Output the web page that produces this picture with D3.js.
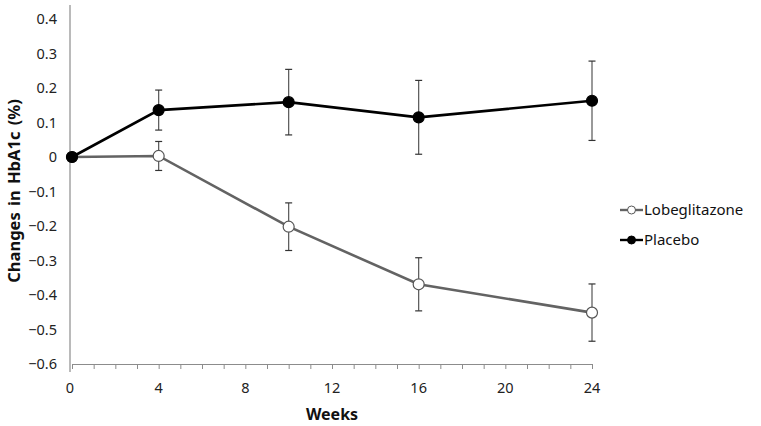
<!DOCTYPE html>
<html><head><meta charset="utf-8">
<script src="https://cdn.jsdelivr.net/npm/d3@7"></script>
<style>body{margin:0;background:#fff}svg{display:block}</style>
</head><body>
<svg id="c" width="761" height="426"></svg>
<script>
const weeks = [0, 4, 10, 16, 24];
const lobeMean = [0, 0.003, -0.202, -0.369, -0.451];
const lobeErr = [0, 0.042, 0.069, 0.077, 0.083];
const placeboMean = [0, 0.136, 0.159, 0.115, 0.163];
const placeboErr = [0, 0.058, 0.095, 0.107, 0.115];
const yTicks = [0.4, 0.3, 0.2, 0.1, 0, -0.1, -0.2, -0.3, -0.4, -0.5, -0.6];
const xTicks = [0, 4, 8, 12, 16, 20, 24];
const seriesNames = ["Lobeglitazone", "Placebo"];

const svg = d3.select("#c");
const font = "'Noto Sans', 'Open Sans', sans-serif";
const x = d3.scaleLinear().domain([0, 24]).range([72, 592]);
const y = d3.scaleLinear().domain([-0.6, 0.4]).range([364, 19]);

// y axis line
svg.append("line").attr("x1", 70).attr("x2", 70).attr("y1", 5).attr("y2", 372)
  .attr("stroke", "#8c8c8c").attr("stroke-width", 1.2);
// y tick labels
svg.append("g").selectAll("text").data(yTicks).join("text")
  .attr("x", 57).attr("y", d => y(d)).attr("dy", "0.35em")
  .attr("text-anchor", "end").attr("font-family", font).attr("font-size", 14.5)
  .attr("fill", "#222").text(d => d === 0 ? "0" : d3.format(".1f")(d));

// x axis
const xAxis = d3.axisBottom(x).tickValues(d3.range(0, 25, 1)).tickSize(5).tickFormat("");
const gx = svg.append("g").attr("transform", "translate(0,364)").call(xAxis);
gx.select(".domain").attr("stroke", "#8c8c8c").attr("stroke-width", 1.2).attr("d", "M72,0.5H592");
gx.selectAll(".tick line").attr("stroke", "#8c8c8c");
svg.append("g").selectAll("text").data(xTicks).join("text")
  .attr("x", d => x(d) - (d === 0 ? 2 : 0)).attr("y", 393)
  .attr("text-anchor", "middle").attr("font-family", font).attr("font-size", 14.5)
  .attr("fill", "#222").text(d => d);

// titles
svg.append("text").attr("x", 332).attr("y", 420).attr("text-anchor", "middle")
  .attr("font-family", font).attr("font-size", 16).attr("font-weight", "bold")
  .attr("fill", "#111").text("Weeks");
svg.append("text").attr("transform", "translate(20,191) rotate(-90)").attr("text-anchor", "middle")
  .attr("font-family", font).attr("font-size", 16.5).attr("font-weight", "bold")
  .attr("fill", "#111").attr("word-spacing", 2).text("Changes in HbA1c (%)");

const series = [
  {name: seriesNames[0], mean: lobeMean, err: lobeErr, color: "#636363", fill: "#fff"},
  {name: seriesNames[1], mean: placeboMean, err: placeboErr, color: "#000", fill: "#000"}
];
const line = d3.line().x(d => x(d[0])).y(d => y(d[1]));

series.forEach(s => {
  const pts = weeks.map((w, i) => [w, s.mean[i], s.err[i]]);
  const g = svg.append("g");
  const eb = g.selectAll("g.eb").data(pts.filter(p => p[2] > 0)).join("g");
  eb.append("line").attr("x1", d => x(d[0])).attr("x2", d => x(d[0]))
    .attr("y1", d => y(d[1] + d[2])).attr("y2", d => y(d[1] - d[2]))
    .attr("stroke", "#555").attr("stroke-width", 1.2);
  [1, -1].forEach(sg => {
    eb.append("line").attr("x1", d => x(d[0]) - 3.5).attr("x2", d => x(d[0]) + 3.5)
      .attr("y1", d => y(d[1] + sg * d[2])).attr("y2", d => y(d[1] + sg * d[2]))
      .attr("stroke", "#333").attr("stroke-width", 1.2);
  });
  g.append("path").datum(pts).attr("d", line).attr("fill", "none")
    .attr("stroke", s.color).attr("stroke-width", 2.6);
  g.selectAll("circle").data(pts).join("circle")
    .attr("cx", d => x(d[0])).attr("cy", d => y(d[1])).attr("r", 5.5)
    .attr("fill", s.fill).attr("stroke", s.name === "Placebo" ? "#000" : "#555").attr("stroke-width", 1.2);
});

// legend
const leg = svg.append("g");
series.forEach((s, i) => {
  const ly = 210 + i * 30;
  leg.append("line").attr("x1", 620).attr("x2", 643).attr("y1", ly).attr("y2", ly)
    .attr("stroke", s.color).attr("stroke-width", 2.4);
  leg.append("circle").attr("cx", 631.5).attr("cy", ly).attr("r", 4)
    .attr("fill", s.fill).attr("stroke", s.name === "Placebo" ? "#000" : "#555").attr("stroke-width", 1);
  leg.append("text").attr("x", 644).attr("y", ly).attr("dy", "0.35em")
    .attr("font-family", font).attr("font-size", 15).attr("fill", "#111").text(s.name);
});
</script>
</body></html>
